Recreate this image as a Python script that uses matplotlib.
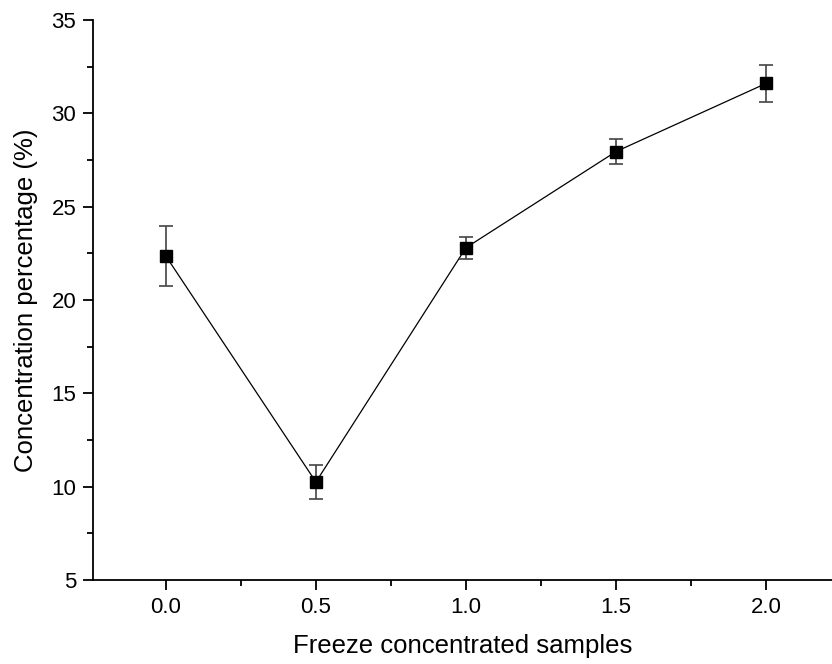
import numpy as np
import matplotlib.pyplot as plt
from matplotlib.ticker import MultipleLocator

plt.rcParams['font.family'] = ['Liberation Sans', 'DejaVu Sans']

samples = [0.0, 0.5, 1.0, 1.5, 2.0]
concentration = [22.35, 10.25, 22.8, 27.95, 31.6]
err = [1.6, 0.93, 0.6, 0.67, 1.0]

fig = plt.figure(figsize=(8.32, 6.64), dpi=100)
ax = fig.add_axes([93/832, 1 - 580/664, 1 - 93/832, 560/664])

# connecting line + markers
ax.plot(samples, concentration, color='black', lw=0.9, zorder=2)
ax.errorbar(samples, concentration, yerr=err, fmt='none', ecolor='#444444',
            elinewidth=1.2, capsize=5, capthick=1.2, zorder=3)
ax.plot(samples, concentration, 's', color='black', ms=8.5, zorder=4)

ax.set_xlim(-0.243, 2.22)
ax.set_ylim(5, 35)
ax.xaxis.set_major_locator(MultipleLocator(0.5))
ax.xaxis.set_minor_locator(MultipleLocator(0.25))
ax.yaxis.set_major_locator(MultipleLocator(5))
ax.yaxis.set_minor_locator(MultipleLocator(2.5))
ax.xaxis.set_major_formatter(plt.FormatStrFormatter('%.1f'))

for s in ['top', 'right']:
    ax.spines[s].set_visible(False)
for s in ['left', 'bottom']:
    ax.spines[s].set_linewidth(1.3)

ax.tick_params(which='major', direction='out', length=7, width=1.3, labelsize=16, pad=5)
ax.tick_params(which='minor', direction='out', length=4, width=1.3)

ax.set_xlabel('Freeze concentrated samples', fontsize=18.5, labelpad=12)
ax.set_ylabel('Concentration percentage (%)', fontsize=18.5, labelpad=10)

fig.savefig('out.png', dpi=100)
